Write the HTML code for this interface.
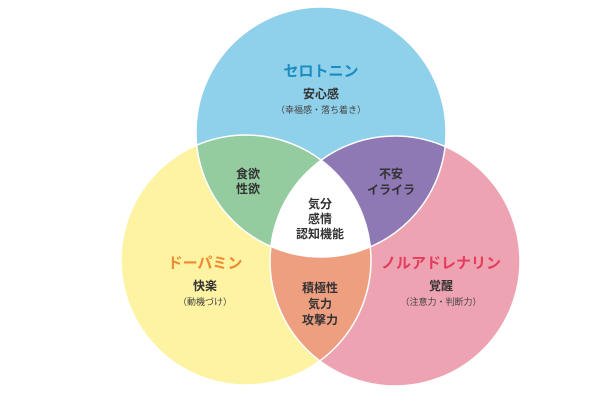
<!DOCTYPE html>
<html><head><meta charset="utf-8"><style>
html,body{margin:0;padding:0;background:#fff;}
svg text{font-family:"Liberation Sans","Noto Sans CJK JP",sans-serif;text-anchor:middle;}
</style></head><body>
<svg width="600" height="400" viewBox="0 0 600 400" xmlns="http://www.w3.org/2000/svg">
<defs>
<clipPath id="cT"><circle cx="321" cy="132" r="125"/></clipPath>
<clipPath id="cL"><circle cx="246" cy="260" r="125"/></clipPath>
<clipPath id="cR"><circle cx="395" cy="261" r="125"/></clipPath>
</defs>
<circle cx="321" cy="132" r="125" fill="#8fd0ea"/>
<circle cx="246" cy="260" r="125" fill="#fdf3a2"/>
<circle cx="395" cy="261" r="125" fill="#eea3b3"/>
<g clip-path="url(#cT)"><circle cx="246" cy="260" r="125" fill="#94cca0"/></g>
<g clip-path="url(#cT)"><circle cx="395" cy="261" r="125" fill="#8e79b4"/></g>
<g clip-path="url(#cL)"><circle cx="395" cy="261" r="125" fill="#ee9f80"/></g>
<g clip-path="url(#cT)"><g clip-path="url(#cL)"><circle cx="395" cy="261" r="125" fill="#fff"/></g></g>
<g fill="none" stroke="#fff" stroke-width="1.5">
<circle cx="321" cy="132" r="125"/><circle cx="246" cy="260" r="125"/><circle cx="395" cy="261" r="125"/>
</g>
<text x="321" y="76" font-size="15" font-weight="bold" fill="#1a8cc0">セロトニン</text>
<text x="321" y="98" font-size="12" font-weight="bold" fill="#333">安心感</text>
<text x="321" y="113" font-size="9" fill="#444">（幸福感・落ち着き）</text>
<text x="248" y="178" font-size="12" font-weight="bold" fill="#333">食欲</text>
<text x="248" y="193" font-size="12" font-weight="bold" fill="#333">性欲</text>
<text x="391" y="178" font-size="12" font-weight="bold" fill="#333">不安</text>
<text x="391" y="194" font-size="12" font-weight="bold" fill="#333">イライラ</text>
<text x="320" y="208" font-size="12" font-weight="bold" fill="#333">気分</text>
<text x="320" y="223" font-size="12" font-weight="bold" fill="#333">感情</text>
<text x="320" y="238" font-size="12" font-weight="bold" fill="#333">認知機能</text>
<text x="205" y="268" font-size="15" font-weight="bold" fill="#ef8a2e">ドーパミン</text>
<text x="205" y="290" font-size="12" font-weight="bold" fill="#333">快楽</text>
<text x="205" y="305" font-size="9" fill="#444">（動機づけ）</text>
<text x="441" y="268" font-size="15" font-weight="bold" fill="#e43c5c">ノルアドレナリン</text>
<text x="441" y="290" font-size="12" font-weight="bold" fill="#333">覚醒</text>
<text x="441" y="305" font-size="9" fill="#444">（注意力・判断力）</text>
<text x="320" y="292" font-size="12" font-weight="bold" fill="#333">積極性</text>
<text x="320" y="308" font-size="12" font-weight="bold" fill="#333">気力</text>
<text x="320" y="324" font-size="12" font-weight="bold" fill="#333">攻撃力</text>
</svg>
</body></html>
